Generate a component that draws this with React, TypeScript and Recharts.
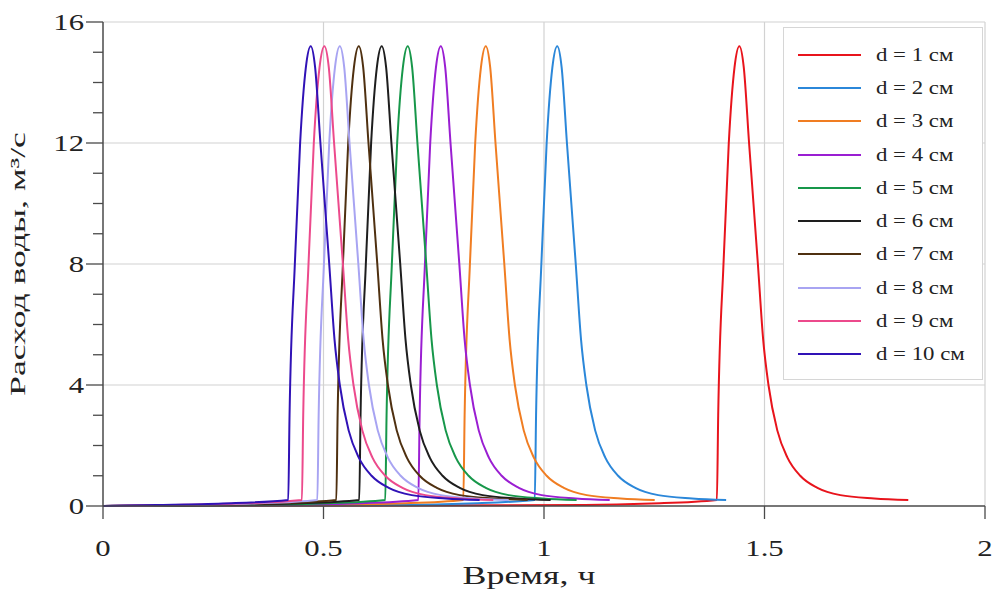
import { LineChart, Line, XAxis, YAxis, CartesianGrid, Legend } from 'recharts';

// flow profile (m³/s); every run has the same hydrograph shape
const flowQ = [0, 0.03, 0.08, 0.2, 3, 8, 12, 14.5, 15.2, 14.5, 12, 8, 5.5, 4, 2.5, 1.6, 1.0, 0.6, 0.36, 0.25, 0.2];

// time (h) of each profile point for every pipe diameter
const timeD1 = [0, 1.093, 1.243, 1.392, 1.395, 1.407, 1.419, 1.432, 1.443, 1.453, 1.465, 1.485, 1.497, 1.509, 1.529, 1.552, 1.581, 1.62, 1.672, 1.749, 1.826];
const timeD2 = [0, 0.68, 0.83, 0.979, 0.982, 0.994, 1.006, 1.019, 1.03, 1.04, 1.052, 1.072, 1.084, 1.096, 1.116, 1.139, 1.168, 1.207, 1.259, 1.336, 1.413];
const timeD3 = [0, 0.518, 0.668, 0.817, 0.82, 0.832, 0.844, 0.857, 0.868, 0.878, 0.89, 0.91, 0.922, 0.934, 0.954, 0.977, 1.006, 1.045, 1.097, 1.174, 1.251];
const timeD4 = [0, 0.416, 0.566, 0.715, 0.718, 0.73, 0.742, 0.755, 0.766, 0.776, 0.788, 0.808, 0.82, 0.832, 0.852, 0.875, 0.904, 0.943, 0.995, 1.072, 1.149];
const timeD5 = [0, 0.341, 0.491, 0.64, 0.643, 0.655, 0.667, 0.68, 0.691, 0.701, 0.713, 0.733, 0.745, 0.757, 0.777, 0.8, 0.829, 0.868, 0.92, 0.997, 1.074];
const timeD6 = [0, 0.282, 0.432, 0.581, 0.584, 0.596, 0.608, 0.621, 0.632, 0.642, 0.654, 0.674, 0.686, 0.698, 0.718, 0.741, 0.77, 0.809, 0.861, 0.938, 1.015];
const timeD7 = [0, 0.23, 0.38, 0.529, 0.532, 0.544, 0.556, 0.569, 0.58, 0.59, 0.602, 0.622, 0.634, 0.646, 0.666, 0.689, 0.718, 0.757, 0.809, 0.886, 0.963];
const timeD8 = [0, 0.187, 0.337, 0.486, 0.489, 0.501, 0.513, 0.526, 0.537, 0.547, 0.559, 0.579, 0.591, 0.603, 0.623, 0.646, 0.675, 0.714, 0.766, 0.843, 0.92];
const timeD9 = [0, 0.152, 0.302, 0.451, 0.454, 0.466, 0.478, 0.491, 0.502, 0.512, 0.524, 0.544, 0.556, 0.568, 0.588, 0.611, 0.64, 0.679, 0.731, 0.808, 0.885];
const timeD10 = [0, 0.121, 0.271, 0.42, 0.423, 0.435, 0.447, 0.46, 0.471, 0.481, 0.493, 0.513, 0.525, 0.537, 0.557, 0.58, 0.609, 0.648, 0.7, 0.777, 0.854];

const names = ['d = 1 см', 'd = 2 см', 'd = 3 см', 'd = 4 см', 'd = 5 см', 'd = 6 см', 'd = 7 см', 'd = 8 см', 'd = 9 см', 'd = 10 см'];
const colors = ['#e8141c', '#2b87d9', '#f07d22', '#9a1ed2', '#17974a', '#1e1e1e', '#4f3010', '#a8a4f2', '#ec4a8c', '#3012b6'];
const times = [timeD1, timeD2, timeD3, timeD4, timeD5, timeD6, timeD7, timeD8, timeD9, timeD10];

const xTicks = [0, 0.5, 1, 1.5, 2];
const xGrid = [0.5, 1, 1.5, 2];
const yTicks = [0, 1, 2, 3, 4, 5, 6, 7, 8, 9, 10, 11, 12, 13, 14, 15, 16];
const yGrid = [4, 8, 12, 16];

const series = times.map((ts) => ts.map((t, i) => ({ t, q: flowQ[i] })));

const FONT = '"Liberation Serif", "Times New Roman", serif';
const AXIS = '#4a4a4a';
const INK = '#222';

// the source picture is stretched horizontally
const STRETCH = 1.28;

const YTick = (props: any) => {
  const { x, y, payload } = props;
  const major = payload.value % 4 === 0;
  return (
    <g>
      <line x1={x - (major ? 17 : 10)} x2={x} y1={y} y2={y} stroke={AXIS} strokeWidth={1.3} />
      {major && (
        <text
          transform={`translate(${x - 19},${y + 8}) scale(${STRETCH},1)`}
          textAnchor="end"
          fontSize={24}
          fill={INK}
          fontFamily={FONT}
        >
          {payload.value}
        </text>
      )}
    </g>
  );
};

const XTick = (props: any) => {
  const { x, y, payload } = props;
  return (
    <g>
      <line x1={x} x2={x} y1={y} y2={y + 13} stroke={AXIS} strokeWidth={1.3} />
      <text
        transform={`translate(${x},${y + 50}) scale(${STRETCH},1)`}
        textAnchor="middle"
        fontSize={24}
        fill={INK}
        fontFamily={FONT}
      >
        {payload.value}
      </text>
    </g>
  );
};

const LegendBox = ({ payload }: { payload?: { value: string; color: string }[] }) => {
  const items = [...(payload || [])].sort((a, b) => names.indexOf(a.value) - names.indexOf(b.value));
  return (
    <div style={{ background: '#fff', border: '1px solid #d6d6d6', width: 200, height: 353, boxSizing: 'border-box', paddingTop: 10 }}>
      {items.map((p) => (
        <div key={p.value} style={{ display: 'flex', alignItems: 'center', height: 33.3 }}>
          <svg width={78} height={6} style={{ marginLeft: 14, flex: 'none' }}>
            <line x1={0} x2={63} y1={3} y2={3} stroke={p.color} strokeWidth={2} />
          </svg>
          <span
            style={{
              fontFamily: FONT,
              fontSize: 19,
              color: INK,
              display: 'inline-block',
              whiteSpace: 'nowrap',
              transform: 'scaleX(1.2)',
              transformOrigin: 'left center',
            }}
          >
            {p.value}
          </span>
        </div>
      ))}
    </div>
  );
};

export default function App() {
  return (
    <div style={{ position: 'absolute', left: 0, top: 0, background: '#fff' }}>
      <LineChart width={992} height={589} margin={{ top: 22, right: 7, left: 8, bottom: 0 }}>
        <CartesianGrid stroke="#d2d2d2" strokeWidth={1.2} horizontalValues={yGrid} verticalValues={xGrid} />
        <XAxis
          dataKey="t"
          type="number"
          domain={[0, 2]}
          ticks={xTicks}
          height={83}
          tickSize={0}
          tickMargin={0}
          tickLine={false}
          tick={<XTick />}
          axisLine={{ stroke: AXIS, strokeWidth: 1.5 }}
          allowDataOverflow
          label={{
            content: ({ viewBox }: any) => (
              <text
                transform={`translate(${viewBox.x + viewBox.width / 2 - 15},${viewBox.y + 78}) scale(1.38,1)`}
                textAnchor="middle"
                fontSize={26}
                fill={INK}
                fontFamily={FONT}
              >
                Время, ч
              </text>
            ),
          }}
        />
        <YAxis
          type="number"
          domain={[0, 16]}
          ticks={yTicks}
          width={95}
          interval={0}
          tickSize={0}
          tickMargin={0}
          tickLine={false}
          tick={<YTick />}
          axisLine={{ stroke: AXIS, strokeWidth: 1.5 }}
          label={{
            content: ({ viewBox }: any) => (
              <text
                transform={`translate(${viewBox.x + 17},${viewBox.y + viewBox.height / 2}) rotate(-90) scale(1.7,1)`}
                textAnchor="middle"
                fontSize={21}
                fill={INK}
                fontFamily={FONT}
              >
                Расход воды, м³/с
              </text>
            ),
          }}
        />
        <Legend
          layout="vertical"
          align="center"
          verticalAlign="middle"
          content={<LegendBox />}
          wrapperStyle={{ position: 'absolute', left: 783, top: 27, width: 200 }}
        />
        {series.map((data, i) => (
          <Line
            key={names[i]}
            data={data}
            dataKey="q"
            name={names[i]}
            type="monotone"
            stroke={colors[i]}
            strokeWidth={2}
            dot={false}
            isAnimationActive={false}
          />
        ))}
      </LineChart>
    </div>
  );
}
